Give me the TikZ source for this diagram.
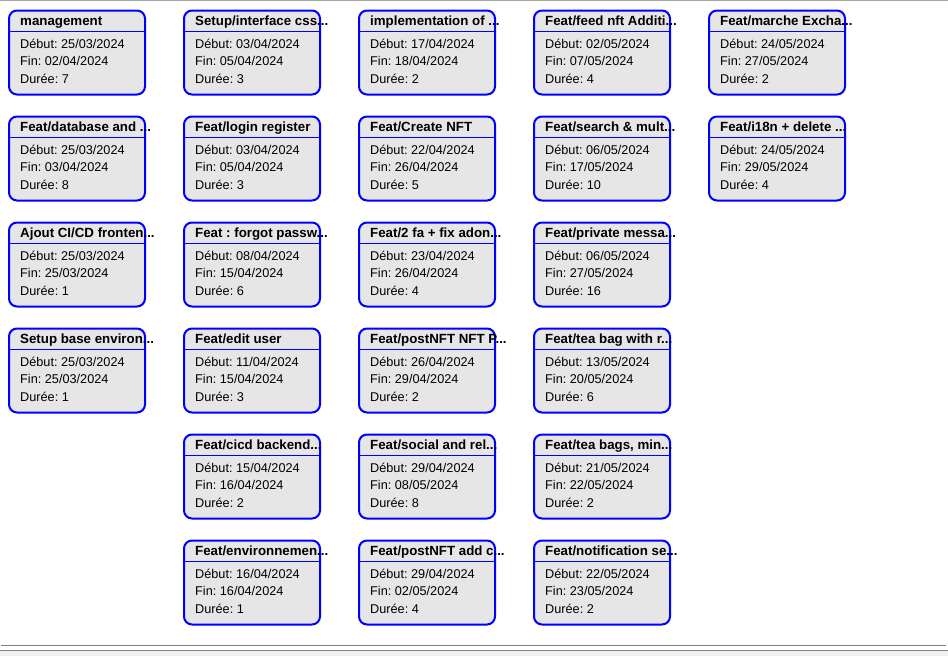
\documentclass[tikz,border=0pt]{standalone}
\usepackage{fontspec}
\setmainfont{Liberation Sans}
\frenchspacing
\definecolor{cardgray}{HTML}{E6E6E6}
\definecolor{framegray}{HTML}{808080}
\definecolor{barfill}{HTML}{F0F0F0}

\newcommand\taskcard[7]{%
   \node[card] (#1) at ({8+175*#2},{9.5+106*#3}) {};
   \draw[cardsep] ([yshift=-22pt]#1.north west) -- ([yshift=-22pt]#1.north east);
   \node[cardtitle] (#1-t) at ([xshift=12pt,yshift=-15.5pt]#1.north west) {#4};
   \node[cardline] (#1-d) at ([xshift=12pt,yshift=-38.5pt]#1.north west) {Début: #5};
   \node[cardline] (#1-f) at ([xshift=12pt,yshift=-55.5pt]#1.north west) {Fin: #6};
   \node[cardline] (#1-n) at ([xshift=12pt,yshift=-73.5pt]#1.north west) {Durée: #7};
}

\begin{document}
\begin{tikzpicture}[x=1pt,y=-1pt,
   card/.style={draw=blue, line width=2pt, fill=cardgray, rounded corners=8pt,
      anchor=north west, inner sep=0pt, minimum width=136pt, minimum height=84pt},
   cardsep/.style={draw=blue, line width=1pt},
   cardtitle/.style={anchor=base west, inner sep=0pt, font=\fontsize{13.3}{15}\selectfont\bfseries},
   cardline/.style={anchor=base west, inner sep=0pt, font=\fontsize{12.7}{15}\selectfont}]
   \useasboundingbox (0,0) rectangle (948,656);

   % window frame
   \draw[framegray!70, line width=1pt] (0,0.5) -- (948,0.5);
   \fill[barfill] (0,651) rectangle (948,656);
   \draw[framegray, line width=1pt] (1,645.5) -- (946,645.5);
   \draw[framegray, line width=1pt] (0,650.5) -- (948,650.5);

   % column 1
   \taskcard{mgmt}{0}{0}{management}{25/03/2024}{02/04/2024}{7}
   \taskcard{database}{0}{1}{Feat/database and ...}{25/03/2024}{03/04/2024}{8}
   \taskcard{cifront}{0}{2}{Ajout CI/CD fronten...}{25/03/2024}{25/03/2024}{1}
   \taskcard{baseenv}{0}{3}{Setup base environ...}{25/03/2024}{25/03/2024}{1}

   % column 2
   \taskcard{css}{1}{0}{Setup/interface css...}{03/04/2024}{05/04/2024}{3}
   \taskcard{login}{1}{1}{Feat/login register}{03/04/2024}{05/04/2024}{3}
   \taskcard{forgot}{1}{2}{Feat : forgot passw...}{08/04/2024}{15/04/2024}{6}
   \taskcard{edituser}{1}{3}{Feat/edit user}{11/04/2024}{15/04/2024}{3}
   \taskcard{ciback}{1}{4}{Feat/cicd backend...}{15/04/2024}{16/04/2024}{2}
   \taskcard{env}{1}{5}{Feat/environnemen...}{16/04/2024}{16/04/2024}{1}

   % column 3
   \taskcard{impl}{2}{0}{implementation of ...}{17/04/2024}{18/04/2024}{2}
   \taskcard{createnft}{2}{1}{Feat/Create NFT}{22/04/2024}{26/04/2024}{5}
   \taskcard{twofa}{2}{2}{Feat/2 fa + fix adon...}{23/04/2024}{26/04/2024}{4}
   \taskcard{postnft}{2}{3}{Feat/postNFT NFT P...}{26/04/2024}{29/04/2024}{2}
   \taskcard{social}{2}{4}{Feat/social and rel...}{29/04/2024}{08/05/2024}{8}
   \taskcard{postadd}{2}{5}{Feat/postNFT add c...}{29/04/2024}{02/05/2024}{4}

   % column 4
   \taskcard{feed}{3}{0}{Feat/feed nft Additi...}{02/05/2024}{07/05/2024}{4}
   \taskcard{search}{3}{1}{Feat/search \& mult...}{06/05/2024}{17/05/2024}{10}
   \taskcard{private}{3}{2}{Feat/private messa...}{06/05/2024}{27/05/2024}{16}
   \taskcard{teabag}{3}{3}{Feat/tea bag with r...}{13/05/2024}{20/05/2024}{6}
   \taskcard{teabags}{3}{4}{Feat/tea bags, min...}{21/05/2024}{22/05/2024}{2}
   \taskcard{notif}{3}{5}{Feat/notification se...}{22/05/2024}{23/05/2024}{2}

   % column 5
   \taskcard{marche}{4}{0}{Feat/marche Excha...}{24/05/2024}{27/05/2024}{2}
   \taskcard{i18n}{4}{1}{Feat/i18n + delete ...}{24/05/2024}{29/05/2024}{4}
\end{tikzpicture}
\end{document}
